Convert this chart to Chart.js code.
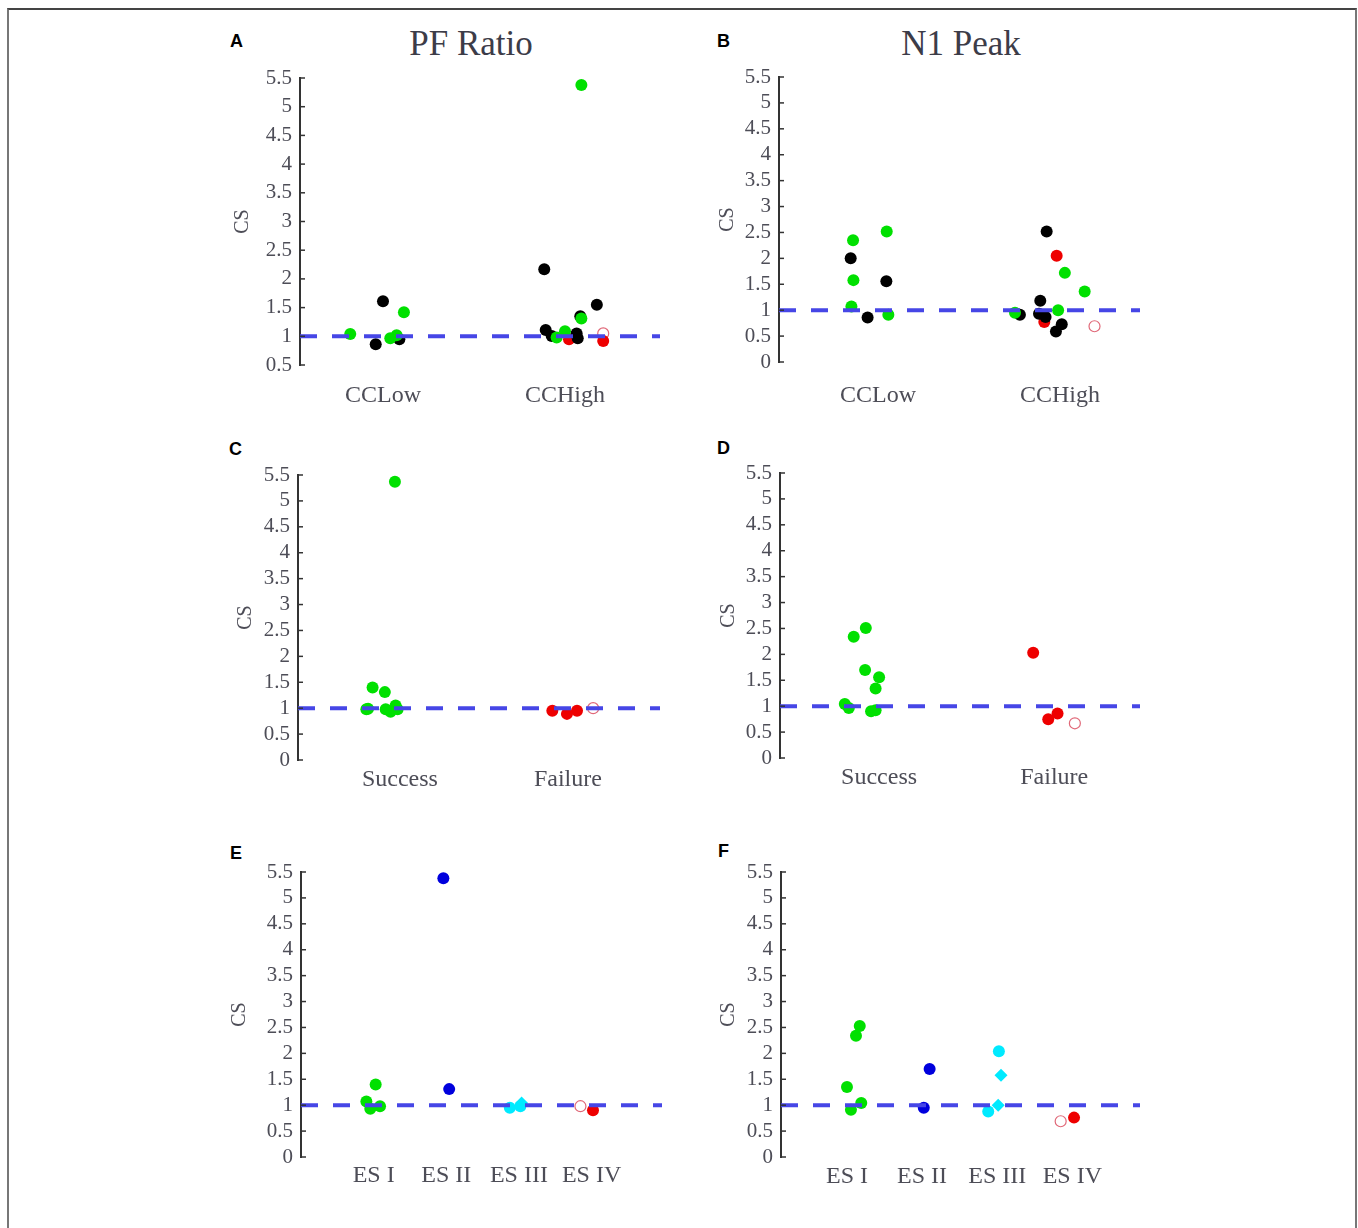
<!DOCTYPE html>
<html>
<head>
<meta charset="utf-8">
<script src="https://cdn.jsdelivr.net/npm/chart.js@4.4.0/dist/chart.umd.min.js"></script>
<style>
  body { margin: 0; background: #fff; }
  #frame { position: absolute; left: 7px; top: 8px; width: 1346px; height: 1240px;
           border: 2px solid #777; border-top-color: #444; }
  canvas { position: absolute; }
  .letter { position: absolute; font-family: 'Liberation Sans', Arial, sans-serif; font-weight: bold;
            font-size: 18px; line-height: 1; color: #000; }
  .title { position: absolute; font-family: 'Liberation Serif', 'Times New Roman', serif; font-size: 35px;
           line-height: 1; color: #3c3c48; transform: translateX(-50%); white-space: nowrap; }
</style>
</head>
<body>
<div id="frame"></div>

<div class="title" style="left:471px; top:26px;">PF Ratio</div>
<div class="title" style="left:961px; top:26px;">N1 Peak</div>

<div class="letter" style="left:230px; top:32px;">A</div>
<div class="letter" style="left:717px; top:32px;">B</div>
<div class="letter" style="left:229px; top:440px;">C</div>
<div class="letter" style="left:717px; top:439px;">D</div>
<div class="letter" style="left:230px; top:844px;">E</div>
<div class="letter" style="left:718px; top:842px;">F</div>

<canvas id="chartA" width="439" height="361" style="left:231px; top:54px;"></canvas>
<canvas id="chartB" width="434" height="359" style="left:716px; top:53px;"></canvas>
<canvas id="chartC" width="436" height="359" style="left:234px; top:451px;"></canvas>
<canvas id="chartD" width="433" height="359" style="left:717px; top:449px;"></canvas>
<canvas id="chartE" width="444" height="359" style="left:228px; top:848px;"></canvas>
<canvas id="chartF" width="433" height="359" style="left:717px; top:848px;"></canvas>

<script>
// categories and tick values
const ccGroups = ['CCLow', 'CCHigh'];
const outcomes = ['Success', 'Failure'];
const esStages = ['ES I', 'ES II', 'ES III', 'ES IV'];
const csTicks = [0, 0.5, 1, 1.5, 2, 2.5, 3, 3.5, 4, 4.5, 5, 5.5];
const csReference = 1;

// points as [x (category + jitter), CS]
// A - PF Ratio by CC group
const aGreen = [[0.82, 1.04], [1.04, 0.965], [1.075, 1.02], [1.115, 1.42], [2.09, 5.38], [2.09, 1.31], [1.954, 0.98], [2.0, 1.09]];
const aBlack = [[0.96, 0.86], [1.0, 1.61], [1.09, 0.95], [1.886, 2.17], [2.175, 1.55], [2.084, 1.35], [1.894, 1.11], [1.927, 1.006], [2.064, 1.05], [2.07, 0.965]];
const aRed = [[2.022, 0.95], [2.21, 0.92]];
const aOpen = [[2.21, 1.05]];

// B - N1 Peak by CC group
const bGreen = [[0.863, 2.35], [0.865, 1.58], [0.854, 1.07], [1.048, 2.52], [1.057, 0.91], [2.027, 1.72], [2.136, 1.36], [1.99, 1.0], [1.753, 0.95]];
const bBlack = [[0.85, 2.0], [0.943, 0.86], [1.046, 1.56], [1.927, 2.52], [1.892, 1.18], [1.78, 0.91], [1.885, 0.93], [1.921, 0.87], [2.01, 0.73], [1.978, 0.59]];
const bRed = [[1.982, 2.05], [1.914, 0.77]];
const bOpen = [[2.19, 0.69]];

// C - PF Ratio by outcome
const cGreen = [[0.97, 5.37], [0.837, 1.40], [0.91, 1.31], [0.80, 0.98], [0.81, 0.99], [0.915, 0.98], [0.944, 0.93], [0.974, 1.05], [0.986, 0.98]];
const cRed = [[1.907, 0.95], [1.994, 0.89], [2.054, 0.95]];
const cOpen = [[2.15, 1.0]];

// D - N1 Peak by outcome
const dGreen = [[0.855, 2.34], [0.924, 2.51], [0.92, 1.70], [1.0, 1.56], [0.98, 1.34], [0.804, 1.04], [0.827, 0.965], [0.954, 0.90], [0.98, 0.92]];
const dRed = [[1.88, 2.03], [2.019, 0.86], [1.966, 0.75]];
const dOpen = [[2.118, 0.67]];

// E - PF Ratio by ES stage
const eStage1 = [[1.028, 1.40], [0.90, 1.07], [0.954, 0.93], [1.088, 0.98]];
const eStage2 = [[1.96, 5.38], [2.04, 1.31]];
const eStage3 = [[2.875, 0.95], [3.02, 0.98]];
const eStage3Diamond = [[3.037, 1.04]];
const eStage4 = [[4.02, 0.90]];
const eStage4Open = [[3.847, 0.98]];

// F - N1 Peak by ES stage
const fStage1 = [[1.17, 2.53], [1.12, 2.34], [1.0, 1.35], [1.19, 1.04], [1.053, 0.91]];
const fStage2 = [[2.1, 1.70], [2.022, 0.95]];
const fStage3 = [[3.022, 2.04], [2.88, 0.88]];
const fStage3Diamond = [[3.05, 1.58], [3.013, 1.0]];
const fStage4 = [[4.022, 0.76]];
const fStage4Open = [[3.844, 0.69]];

const SERIF = "'Liberation Serif', 'Times New Roman', serif";
const TEXT = '#4d4d57';

const dot = c => ({ pointStyle: 'circle', pointRadius: 6, backgroundColor: c, borderColor: c, borderWidth: 0 });
const GREEN = dot('#00e000');
const BLACK = dot('#000000');
const RED = dot('#ee0000');
const BLUE = dot('#0000dd');
const CYAN = dot('#00eaff');
const DIAMOND = { pointStyle: 'rectRot', pointRadius: 6.5, backgroundColor: '#00eaff', borderColor: '#00eaff', borderWidth: 0 };
const OPEN = { pointStyle: 'circle', pointRadius: 5.5, backgroundColor: 'rgba(255,255,255,0.6)', borderColor: '#e06878', borderWidth: 1.2 };

// small inward tick marks on the CS axis
const inwardTicks = {
    id: 'inwardTicks',
    afterDraw(chart) {
        const s = chart.scales.y;
        const ctx = chart.ctx;
        ctx.save();
        ctx.strokeStyle = '#333';
        ctx.lineWidth = 1.5;
        s.ticks.forEach(t => {
            const y = s.getPixelForValue(t.value);
            ctx.beginPath();
            ctx.moveTo(s.right, y);
            ctx.lineTo(s.right + 5, y);
            ctx.stroke();
        });
        ctx.restore();
    }
};

function makePanel(id, cats, series, opt) {
    const datasets = series.map(s => Object.assign({
        type: 'scatter',
        data: s[0].map(p => ({ x: p[0], y: p[1] })),
        order: 1
    }, s[1]));

    // dashed reference line at CS = 1
    datasets.push({
        type: 'line',
        data: [{ x: opt.xMin, y: csReference }, { x: opt.xMax, y: csReference }],
        borderColor: '#4646e6',
        borderWidth: 4,
        borderDash: [17, 15],
        pointRadius: 0,
        fill: false,
        order: 0
    });

    const yTicks = csTicks.filter(v => v >= opt.yMin);

    return new Chart(document.getElementById(id), {
        type: 'scatter',
        data: { datasets: datasets },
        options: {
            responsive: false,
            animation: false,
            devicePixelRatio: 1,
            layout: { padding: { top: 24, right: 10, left: 0, bottom: 0 } },
            plugins: { legend: { display: false }, tooltip: { enabled: false } },
            scales: {
                x: {
                    type: 'linear',
                    min: opt.xMin,
                    max: opt.xMax,
                    grid: { display: false, drawTicks: false },
                    border: { display: false },
                    afterBuildTicks: ax => { ax.ticks = cats.map((c, i) => ({ value: i + 1 })); },
                    afterFit: ax => { ax.height = 50; },
                    ticks: {
                        callback: v => cats[v - 1],
                        autoSkip: false,
                        maxRotation: 0,
                        padding: opt.labelPad,
                        color: TEXT,
                        font: { family: SERIF, size: 24 }
                    }
                },
                y: {
                    type: 'linear',
                    min: opt.yMin,
                    max: 5.5,
                    grid: { display: false, drawTicks: false },
                    border: { display: true, color: '#333', width: 2 },
                    afterBuildTicks: ax => { ax.ticks = yTicks.map(v => ({ value: v })); },
                    afterFit: ax => { ax.width = opt.yWidth; },
                    ticks: {
                        callback: v => String(v),
                        autoSkip: false,
                        padding: 8,
                        color: TEXT,
                        font: { family: SERIF, size: 21 }
                    },
                    title: {
                        display: true,
                        text: 'CS',
                        padding: 0,
                        color: TEXT,
                        font: { family: SERIF, size: 20 }
                    }
                }
            }
        },
        plugins: [inwardTicks]
    });
}

makePanel('chartA', ccGroups,
    [[aGreen, GREEN], [aBlack, BLACK], [aRed, RED], [aOpen, OPEN]],
    { xMin: 0.544, xMax: 2.522, yMin: 0.5, yWidth: 69, labelPad: 16 });

makePanel('chartB', ccGroups,
    [[bGreen, GREEN], [bBlack, BLACK], [bRed, RED], [bOpen, OPEN]],
    { xMin: 0.456, xMax: 2.44, yMin: 0, yWidth: 63, labelPad: 19 });

makePanel('chartC', outcomes,
    [[cGreen, GREEN], [cRed, RED], [cOpen, OPEN]],
    { xMin: 0.393, xMax: 2.548, yMin: 0, yWidth: 64, labelPad: 5 });

makePanel('chartD', outcomes,
    [[dGreen, GREEN], [dRed, RED], [dOpen, OPEN]],
    { xMin: 0.434, xMax: 2.49, yMin: 0, yWidth: 63, labelPad: 5 });

makePanel('chartE', esStages,
    [[eStage1, GREEN], [eStage2, BLUE], [eStage3, CYAN], [eStage3Diamond, DIAMOND], [eStage4, RED], [eStage4Open, OPEN]],
    { xMin: 0.0, xMax: 4.97, yMin: 0, yWidth: 73, labelPad: 4 });

makePanel('chartF', esStages,
    [[fStage1, GREEN], [fStage2, BLUE], [fStage3, CYAN], [fStage3Diamond, DIAMOND], [fStage4, RED], [fStage4Open, OPEN]],
    { xMin: 0.122, xMax: 4.90, yMin: 0, yWidth: 64, labelPad: 5 });
</script>
</body>
</html>
